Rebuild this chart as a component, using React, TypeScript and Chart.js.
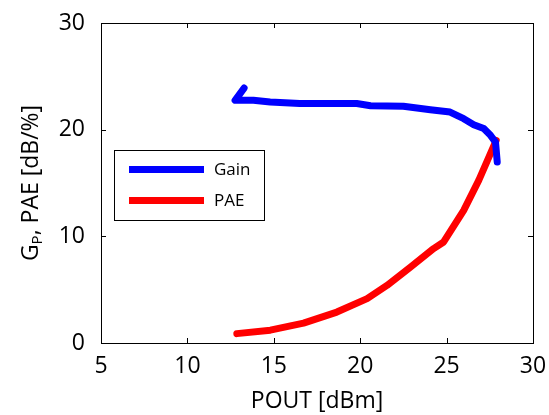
import React, { useEffect, useRef } from "react";
import { Chart, registerables } from "chart.js";

Chart.register(...registerables);

const gainPout = [13.28, 12.76, 13.82, 14.79, 16.5, 18.5, 19.8, 20.6, 22.5, 24.06, 25.2, 25.99, 26.57, 27.15, 27.54, 27.83, 27.93];
const gainValues = [23.9, 22.75, 22.75, 22.6, 22.45, 22.45, 22.45, 22.25, 22.2, 21.87, 21.65, 21.03, 20.47, 20.1, 19.47, 18.84, 16.97];
const paePout = [12.86, 14.8, 16.72, 18.65, 20.4, 21.55, 22.9, 24.25, 24.83, 25.99, 26.86, 27.87];
const paeValues = [0.88, 1.2, 1.87, 2.9, 4.16, 5.4, 7.1, 8.85, 9.47, 12.44, 15.25, 19.0];
const xTicks = [5, 10, 15, 20, 25, 30];
const yTicks = [0, 10, 20, 30];

const FONT = "'Open Sans', 'Noto Sans', sans-serif";

const framePlugin = {
  id: "frame",
  afterDraw(chart: any) {
    const { ctx, chartArea: a, scales } = chart;
    ctx.save();
    ctx.strokeStyle = "#000";
    ctx.lineWidth = 1;
    ctx.strokeRect(Math.round(a.left) + 0.5, Math.round(a.top) + 0.5, Math.round(a.right - a.left), Math.round(a.bottom - a.top));
    const tl = 5;
    ctx.beginPath();
    for (const v of xTicks) {
      const px = Math.round(scales.x.getPixelForValue(v)) + 0.5;
      ctx.moveTo(px, a.bottom); ctx.lineTo(px, a.bottom - tl);
      ctx.moveTo(px, a.top); ctx.lineTo(px, a.top + tl);
    }
    for (const v of yTicks) {
      const py = Math.round(scales.y.getPixelForValue(v)) + 0.5;
      ctx.moveTo(a.left, py); ctx.lineTo(a.left + tl, py);
      ctx.moveTo(a.right, py); ctx.lineTo(a.right - tl, py);
    }
    ctx.stroke();

    // y-axis title with subscript
    ctx.fillStyle = "#000";
    ctx.translate(31, (a.top + a.bottom) / 2);
    ctx.rotate(-Math.PI / 2);
    const big = `23px ${FONT}`;
    const small = `15px ${FONT}`;
    ctx.font = big;
    const wG = ctx.measureText("G").width;
    const rest = ", PAE [dB/%]";
    const wR = ctx.measureText(rest).width;
    ctx.font = small;
    const wP = ctx.measureText("P").width;
    const total = wG + wP + wR;
    let x = -total / 2;
    ctx.textBaseline = "middle";
    ctx.textAlign = "left";
    ctx.font = big;
    ctx.fillText("G", x, 0); x += wG;
    ctx.font = small;
    ctx.fillText("P", x, 7); x += wP;
    ctx.font = big;
    ctx.fillText(rest, x, 0);
    ctx.restore();

    // legend
    ctx.save();
    const lx = 114.5, ly = 150.5, lw = 150, lh = 70;
    ctx.fillStyle = "#fff";
    ctx.fillRect(lx, ly, lw, lh);
    ctx.strokeStyle = "#000";
    ctx.lineWidth = 1;
    ctx.strokeRect(lx, ly, lw, lh);
    const rows = [169.5, 200.5];
    chart.data.datasets.forEach((ds: any, i: number) => {
      ctx.strokeStyle = ds.borderColor;
      ctx.lineWidth = 7;
      ctx.beginPath();
      ctx.moveTo(129, rows[i]);
      ctx.lineTo(204, rows[i]);
      ctx.stroke();
      ctx.fillStyle = "#000";
      ctx.font = `17px ${FONT}`;
      ctx.textBaseline = "middle";
      ctx.fillText(ds.label, 214, rows[i] + 1);
    });
    ctx.restore();
  },
};

export default function App() {
  const ref = useRef<HTMLCanvasElement>(null);
  useEffect(() => {
    document.body.style.margin = "0";
    const chart = new Chart(ref.current!, {
      type: "scatter",
      data: {
        datasets: [
          {
            label: "Gain",
            data: gainPout.map((x, i) => ({ x, y: gainValues[i] })),
            borderColor: "#0000ff",
            backgroundColor: "#0000ff",
            showLine: true,
            pointRadius: 0,
            borderWidth: 7,
            borderJoinStyle: "round",
            borderCapStyle: "round",
          },
          {
            label: "PAE",
            data: paePout.map((x, i) => ({ x, y: paeValues[i] })),
            borderColor: "#ff0000",
            backgroundColor: "#ff0000",
            showLine: true,
            pointRadius: 0,
            borderWidth: 7,
            borderJoinStyle: "round",
            borderCapStyle: "round",
          },
        ],
      },
      options: {
        animation: false,
        responsive: false,
        maintainAspectRatio: false,
        layout: { padding: { top: 23, right: 16, left: 0, bottom: 0 } },
        plugins: { legend: { display: false }, tooltip: { enabled: false } },
        scales: {
          x: {
            type: "linear",
            min: 5,
            max: 30,
            afterBuildTicks: (s: any) => { s.ticks = xTicks.map((v) => ({ value: v })); },
            afterFit: (s: any) => { s.height = 72; },
            grid: { display: false },
            border: { display: false },
            ticks: { color: "#000", font: { family: FONT, size: 23 }, padding: 2, maxRotation: 0 },
            title: { display: true, text: "POUT [dBm]", color: "#000", font: { family: FONT, size: 23 }, padding: { top: 0, bottom: 0 } },
          },
          y: {
            type: "linear",
            min: 0,
            max: 30,
            afterBuildTicks: (s: any) => { s.ticks = yTicks.map((v) => ({ value: v })); },
            afterFit: (s: any) => { s.width = 101; },
            grid: { display: false },
            border: { display: false },
            ticks: { color: "#000", font: { family: FONT, size: 23 }, padding: 8 },
          },
        },
      },
      plugins: [framePlugin],
    });
    return () => chart.destroy();
  }, []);
  return (
    <div style={{ width: 549, height: 415 }}>
      <canvas ref={ref} width={549} height={415} style={{ display: "block" }} />
    </div>
  );
}
